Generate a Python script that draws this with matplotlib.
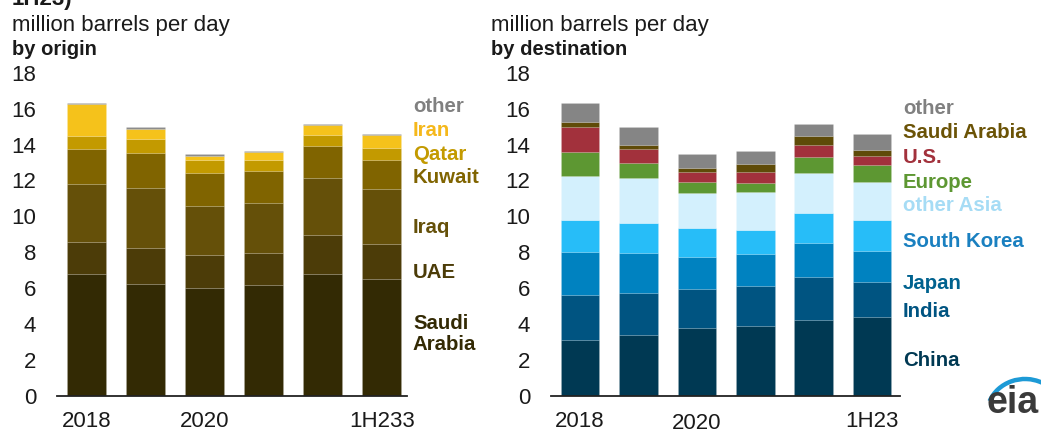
import matplotlib
matplotlib.use("Agg")
import matplotlib.pyplot as plt
import matplotlib.transforms as mtransforms
from matplotlib.patches import Arc
import numpy as np

plt.rcParams['font.family'] = ['Liberation Sans', 'DejaVu Sans']

periods = ['2018', '2019', '2020', '2021', '2022', '1H23']

# exports by origin (million b/d), bottom to top
origin_names = ['Saudi\nArabia', 'UAE', 'Iraq', 'Kuwait', 'Qatar', 'Iran', 'other']
saudi_arabia = [6.78, 6.21, 5.99, 6.15, 6.77, 6.52]
uae = [1.77, 2.01, 1.85, 1.81, 2.21, 1.96]
iraq = [3.23, 3.34, 2.74, 2.80, 3.14, 3.06]
kuwait = [1.96, 1.97, 1.82, 1.77, 1.78, 1.60]
qatar = [0.72, 0.78, 0.74, 0.63, 0.64, 0.69]
iran = [1.79, 0.54, 0.24, 0.43, 0.52, 0.71]
origin_other = [0.05, 0.13, 0.08, 0.07, 0.07, 0.05]

# exports by destination (million b/d), bottom to top
dest_names = ['China', 'India', 'Japan', 'South Korea', 'other Asia',
              'Europe', 'U.S.', 'Saudi Arabia', 'other']
china = [3.10, 3.38, 3.79, 3.88, 4.20, 4.41]
india = [2.53, 2.36, 2.14, 2.25, 2.44, 1.95]
japan = [2.36, 2.22, 1.82, 1.75, 1.87, 1.71]
south_korea = [1.82, 1.69, 1.62, 1.38, 1.69, 1.71]
other_asia = [2.42, 2.47, 1.95, 2.08, 2.20, 2.12]
europe = [1.38, 0.87, 0.58, 0.52, 0.91, 0.94]
us = [1.35, 0.75, 0.55, 0.63, 0.67, 0.54]
to_saudi = [0.30, 0.24, 0.23, 0.41, 0.48, 0.30]
dest_other = [1.04, 1.00, 0.78, 0.76, 0.67, 0.91]

origin_fill = ['#332a04', '#4c3c08', '#655009', '#806400', '#c39a00', '#f5c21b', '#8c8c8c']
origin_text = ['#332a04', '#4c3c08', '#655009', '#806400', '#c39a00', '#f5b81b', '#808080']
origin_label_y = [3.44, 6.84, 9.4, 12.14, 13.47, 14.8, 16.1]

dest_fill = ['#003953', '#005481', '#0082c0', '#27bdf8', '#d3f0fd',
             '#5d9732', '#a2313c', '#5f4b08', '#858585']
dest_text = ['#003953', '#005481', '#00628f', '#1a80c0', '#a6dcf5',
             '#5d9732', '#a2313c', '#6b5306', '#808080']
dest_label_y = [1.99, 4.67, 6.28, 8.58, 10.6, 11.9, 13.3, 14.65, 16.0]

TICK_SIZE = 16
LABEL_SIZE = 14.7


def stacked(ax, series, fills, names, colors, label_y, ticklabels, xmax):
    x = np.arange(len(periods))
    bottom = np.zeros(len(periods))
    for vals, c in zip(series, fills):
        ax.bar(x, vals, 0.66, bottom=bottom, color=c,
               edgecolor=(1, 1, 1, 0.12), linewidth=0.6)
        bottom += np.array(vals)
    for name, c, y in zip(names, colors, label_y):
        ax.text(5.53, y, name, color=c, fontsize=LABEL_SIZE, fontweight='bold',
                ha='left', va='center', clip_on=False, linespacing=1.15)
    ax.set_xlim(-0.5, xmax)
    ax.set_ylim(0, 18)
    ax.set_yticks(range(0, 19, 2))
    ax.set_xticks([0, 2, 5])
    ax.set_xticklabels(ticklabels)
    ax.tick_params(axis='both', length=0, labelsize=TICK_SIZE, labelcolor='#1a1a1a')
    ax.tick_params(axis='y', pad=15)
    ax.tick_params(axis='x', pad=11)
    for s in ['top', 'right', 'left']:
        ax.spines[s].set_visible(False)
    ax.spines['bottom'].set_color('#222222')
    ax.spines['bottom'].set_linewidth(1.3)


fig = plt.figure(figsize=(10.41, 4.34), dpi=100)

ax1 = fig.add_axes([0.0548, 0.0882, 0.3362, 0.7442])
stacked(ax1, [saudi_arabia, uae, iraq, kuwait, qatar, iran, origin_other],
        origin_fill, origin_names, origin_text, origin_label_y,
        ['2018', '2020', '1H233'], 5.43)

ax2 = fig.add_axes([0.5293, 0.0882, 0.3353, 0.7442])
stacked(ax2, [china, india, japan, south_korea, other_asia, europe, us, to_saudi, dest_other],
        dest_fill, dest_names, dest_text, dest_label_y,
        ['2018', '2020', '1H23'], 5.48)
# the middle year label sits a little lower on this panel
lbl = ax2.get_xticklabels()[1]
lbl.set_transform(lbl.get_transform() + mtransforms.ScaledTranslation(0, -2 / 100, fig.dpi_scale_trans))

# headers
fig.text(12 / 1041, 1 - 5 / 434, '1H23)', fontsize=16, fontweight='bold',
         va='baseline', ha='left', color='#1a1a1a')
for x0, sub in [(12, 'by origin'), (491, 'by destination')]:
    fig.text(x0 / 1041, 1 - 31 / 434, 'million barrels per day', fontsize=16,
             va='baseline', ha='left', color='#1a1a1a')
    fig.text(x0 / 1041, 1 - 55 / 434, sub, fontsize=14.5, fontweight='bold',
             va='baseline', ha='left', color='#1a1a1a')

# eia logo
logo = fig.add_axes([975 / 1041, 0, 66 / 1041, 80 / 434])
logo.set_xlim(0, 66)
logo.set_ylim(0, 80)
logo.axis('off')
logo.text(38, 21, 'eia', fontsize=27, fontweight='bold', color='#3a3a3a',
          ha='center', va='baseline')
logo.add_patch(Arc((50, 20), 76, 70, theta1=62, theta2=160,
                   color='#1d9ad6', lw=3.2))

fig.savefig('out.png', dpi=100)
